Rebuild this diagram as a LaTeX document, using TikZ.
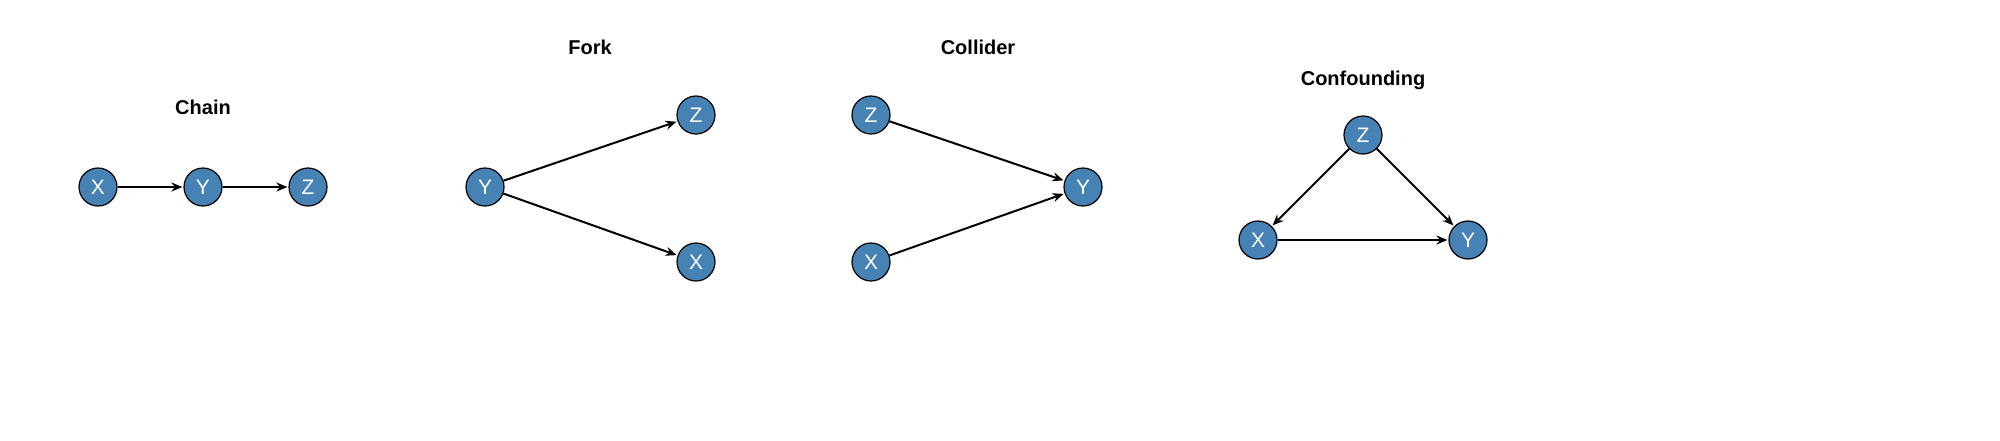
\documentclass[tikz,border=0pt]{standalone}
\usepackage{fontspec}
\setmainfont{Liberation Sans}
\usetikzlibrary{arrows.meta}
\definecolor{nodeblue}{HTML}{4682B4}
\begin{document}
\begin{tikzpicture}[x=1pt,y=-1pt,
  v/.style={circle,draw=black,line width=1.2pt,fill=nodeblue,minimum size=38pt,inner sep=0pt,text=white,font=\fontsize{21}{21}\selectfont},
  e/.style={-{Stealth[length=11pt,width=9pt]},line width=2pt,shorten >=1pt},
  t/.style={font=\fontsize{20}{20}\selectfont\bfseries}]
\useasboundingbox (0,0) rectangle (2000,440);
\node[t] (t1) at (203,107) {Chain};
\node[v] (cx) at (98,187) {X};
\node[v] (cy) at (203,187) {Y};
\node[v] (cz) at (308,187) {Z};
\draw[e] (cx) -- (cy); \draw[e] (cy) -- (cz);
\node[t] (t2) at (590,47) {Fork};
\node[v] (fy) at (485,187) {Y};
\node[v] (fz) at (696,115) {Z};
\node[v] (fx) at (696,262) {X};
\draw[e] (fy) -- (fz); \draw[e] (fy) -- (fx);
\node[t] (t3) at (978,47) {Collider};
\node[v] (kz) at (871,115) {Z};
\node[v] (kx) at (871,262) {X};
\node[v] (ky) at (1083,187) {Y};
\draw[e] (kz) -- (ky); \draw[e] (kx) -- (ky);
\node[t] (t4) at (1363,80) {Confounding};
\node[v] (nz) at (1363,135) {Z};
\node[v] (nx) at (1258,240) {X};
\node[v] (ny) at (1468,240) {Y};
\draw[e] (nz) -- (nx); \draw[e] (nz) -- (ny); \draw[e] (nx) -- (ny);
\end{tikzpicture}
\end{document}
